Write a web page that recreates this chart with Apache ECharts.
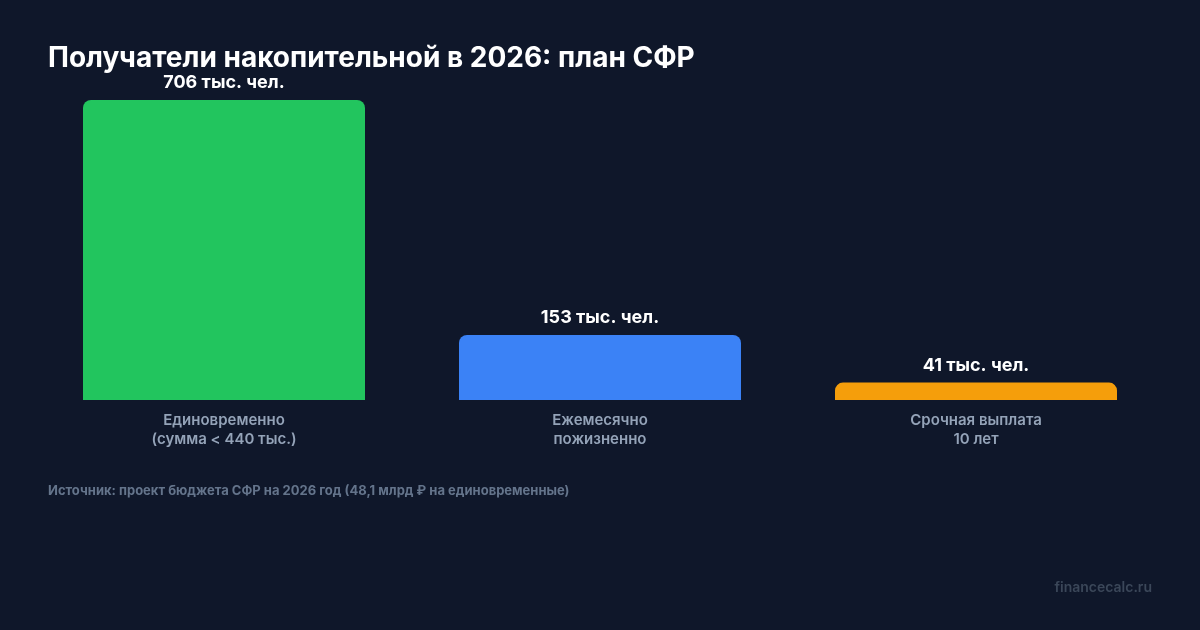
<!DOCTYPE html>
<html><head><meta charset="utf-8">
<script src="https://cdn.jsdelivr.net/npm/echarts@6/dist/echarts.min.js"></script>
<style>html,body{margin:0;padding:0;background:#0f172a}#c{width:1200px;height:630px}</style>
</head><body><div id="c"></div>
<script>
const categories = ['Единовременно\n(сумма < 440 тыс.)', 'Ежемесячно\nпожизненно', 'Срочная выплата\n10 лет'];
const values = [706, 153, 41];
const colors = ['#22c55e', '#3b82f6', '#f59e0b'];
const valueSuffix = ' тыс. чел.';
const titleText = 'Получатели накопительной в 2026: план СФР';
const sourceText = 'Источник: проект бюджета СФР на 2026 год (48,1 млрд ₽ на единовременные)';
const watermark = 'financecalc.ru';

const chart = echarts.init(document.getElementById('c'), null, {renderer: 'canvas'});
chart.setOption({
  backgroundColor: '#0f172a',
  textStyle: {fontFamily: 'Inter'},
  title: {text: titleText, left: 43, top: 40, textStyle: {color: '#ffffff', fontSize: 28, fontWeight: 'bold', fontFamily: 'Inter'}},
  graphic: [
    {type: 'text', left: 48, top: 485, style: {text: sourceText, fill: '#64748b', font: 'bold 13px Inter'}},
    {type: 'text', right: 48, top: 581, style: {text: watermark, fill: '#3b4759', font: '600 14px Inter'}}
  ],
  grid: {left: 36, right: 36, top: 100, bottom: 230},
  xAxis: {type: 'category', data: categories, axisLine: {show: false}, axisTick: {show: false},
    axisLabel: {color: '#94a3b8', fontSize: 15, fontWeight: 600, lineHeight: 19, margin: 11, fontFamily: 'Inter'}},
  yAxis: {type: 'value', min: 0, max: 'dataMax', show: false, splitLine: {show: false}},
  series: [{type: 'bar', barWidth: '75%',
    data: values.map((v, i) => ({value: v, itemStyle: {color: colors[i], borderRadius: [8, 8, 0, 0]}})),
    label: {show: true, position: 'top', distance: 8, color: '#ffffff', fontSize: 18, fontWeight: 'bold', fontFamily: 'Inter',
      formatter: p => p.value + valueSuffix}
  }]
});
</script></body></html>
